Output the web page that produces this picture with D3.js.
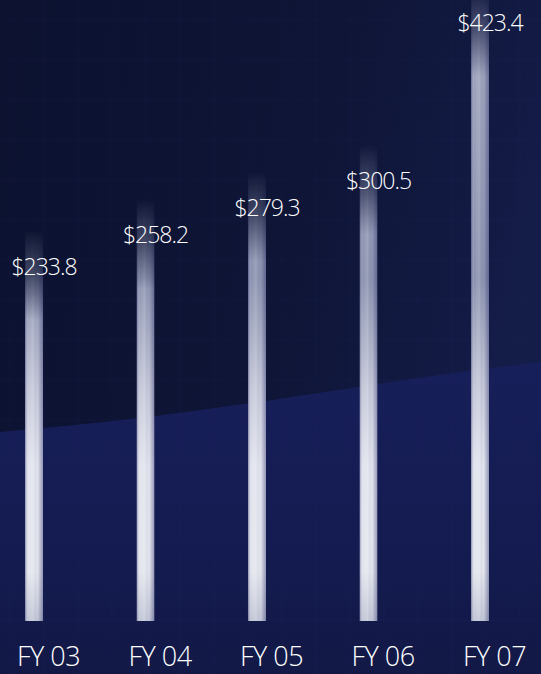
<!DOCTYPE html>
<html><head><meta charset="utf-8">
<script src="https://cdn.jsdelivr.net/npm/d3@7"></script>
<style>html,body{margin:0;padding:0;background:#0e1536;overflow:hidden}</style>
</head><body>
<script>
const categories = ["FY 03", "FY 04", "FY 05", "FY 06", "FY 07"];
const values = [233.8, 258.2, 279.3, 300.5, 423.4];

const W = 541, H = 674, base = 621;
const svg = d3.select("body").append("svg").attr("width", W).attr("height", H);
const defs = svg.append("defs");

// background
const bg = defs.append("linearGradient").attr("id","bg").attr("x1",0).attr("y1",0).attr("x2",1).attr("y2",0.3);
bg.append("stop").attr("offset",0).attr("stop-color","#0c1230");
bg.append("stop").attr("offset",0.6).attr("stop-color","#0e1536");
bg.append("stop").attr("offset",1).attr("stop-color","#141c48");
svg.append("rect").attr("width",W).attr("height",H).attr("fill","url(#bg)");

const band = defs.append("linearGradient").attr("id","band").attr("x1",0).attr("y1",0).attr("x2",0).attr("y2",1);
band.append("stop").attr("offset",0).attr("stop-color","#171f5a");
band.append("stop").attr("offset",0.6).attr("stop-color","#141b50");
band.append("stop").attr("offset",1).attr("stop-color","#121946");
const edge = d3.line().curve(d3.curveBasis)([[0,432],[150,418],[300,396],[450,373],[541,362]]);
svg.append("path")
  .attr("d", edge + "L541,674L0,674Z")
  .attr("fill","url(#band)");

// faint grid texture
const g0 = svg.append("g").attr("stroke","#2a3470").attr("stroke-opacity",0.14);
d3.range(10, W, 34).forEach(v => g0.append("line").attr("x1",v).attr("x2",v).attr("y1",0).attr("y2",H));
d3.range(20, H, 40).forEach(v => g0.append("line").attr("y1",v).attr("y2",v).attr("x1",0).attr("x2",W));

const x = d3.scalePoint().domain(categories).range([34, 480]);
const y = d3.scaleLinear().domain([200, 440]).range([318, 10]);
const bw = 18;

// vertical colour gradient shared
const vg = defs.append("linearGradient").attr("id","vcol").attr("gradientUnits","userSpaceOnUse")
  .attr("x1",0).attr("y1",0).attr("x2",0).attr("y2",base);
[[0,"#a4a8c0"],[0.45,"#8c93b0"],[0.62,"#c4c7d8"],[0.75,"#e2e4ee"],[0.92,"#e4e6ee"],[1,"#c2c6d6"]]
  .forEach(([o,c]) => vg.append("stop").attr("offset",o).attr("stop-color",c));
const hg = defs.append("linearGradient").attr("id","hshade").attr("x1",0).attr("x2",1).attr("y1",0).attr("y2",0);
[[0,"#1a2060",0.45],[0.2,"#ffffff",0.0],[0.45,"#ffffff",0.15],[0.7,"#1a2060",0.0],[1,"#1a2060",0.4]]
  .forEach(([o,c,a]) => hg.append("stop").attr("offset",o).attr("stop-color",c).attr("stop-opacity",a));

categories.forEach((c, i) => {
  const top = y(values[i]) - 45;
  const mg = defs.append("linearGradient").attr("id","mg"+i).attr("gradientUnits","userSpaceOnUse")
    .attr("x1",0).attr("x2",0).attr("y1",top).attr("y2",top+90);
  mg.append("stop").attr("offset",0).attr("stop-color","#000");
  mg.append("stop").attr("offset",0.5).attr("stop-color","#666");
  mg.append("stop").attr("offset",1).attr("stop-color","#fff");
  defs.append("mask").attr("id","m"+i).attr("maskUnits","userSpaceOnUse")
    .attr("x",0).attr("y",-100).attr("width",W).attr("height",H+100)
    .append("rect").attr("x",x(c)-bw/2).attr("y",top).attr("width",bw).attr("height",base-top).attr("fill","url(#mg"+i+")");
});

const bars = svg.append("g").selectAll("g").data(categories).join("g")
  .attr("mask",(d,i)=>"url(#m"+i+")");
bars.append("rect").attr("x",d=>x(d)-bw/2).attr("width",bw)
  .attr("y",(d,i)=>y(values[i])-45).attr("height",(d,i)=>base-(y(values[i])-45))
  .attr("fill","url(#vcol)");
bars.append("rect").attr("x",d=>x(d)-bw/2).attr("width",bw)
  .attr("y",(d,i)=>y(values[i])-45).attr("height",(d,i)=>base-(y(values[i])-45))
  .attr("fill","url(#hshade)");

const fmt = d3.format("$.1f");
svg.append("g").selectAll("text").data(categories).join("text")
  .attr("x",d=>x(d)+10).attr("y",(d,i)=>y(values[i]))
  .attr("text-anchor","middle").attr("fill","#ffffff")
  .attr("font-family","'Open Sans', sans-serif").attr("font-weight",300).attr("font-size",23).attr("letter-spacing",-1)
  .text((d,i)=>fmt(values[i]));

svg.append("g").selectAll("text").data(categories).join("text")
  .attr("x",d=>x(d)-bw/2-8).attr("y",666)
  .attr("fill","#ffffff")
  .attr("font-family","'Open Sans', sans-serif").attr("font-weight",300).attr("font-size",27).attr("letter-spacing",-0.5)
  .text(d=>d);
</script>
</body></html>
